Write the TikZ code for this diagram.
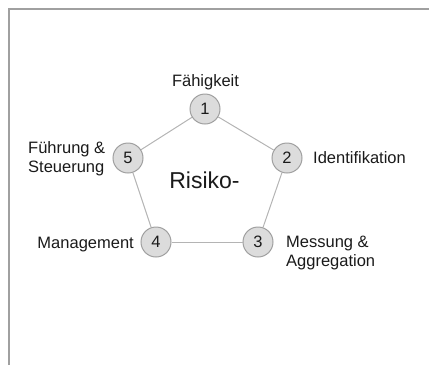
\documentclass[tikz,border=0pt]{standalone}
\usepackage{fontspec}
\setmainfont{Liberation Sans}
\definecolor{framegray}{HTML}{A0A0A0}
\definecolor{linegray}{HTML}{B4B4B4}
\definecolor{circfill}{HTML}{DCDCDC}
\definecolor{circdraw}{HTML}{A0A0A0}
\definecolor{txt}{HTML}{1A1A1A}
\tikzset{
  stage/.style={circle, draw=circdraw, fill=circfill, line width=1pt, minimum size=30pt, inner sep=0pt,
    font=\fontsize{16.5}{19}\selectfont, text=txt},
  lbl/.style={inner sep=0pt, font=\fontsize{16.5}{19}\selectfont, text=txt},
  link/.style={draw=linegray, line width=1pt},
}
\begin{document}
\begin{tikzpicture}[x=1pt,y=-1pt]
\useasboundingbox (0,0) rectangle (429,365);
\draw[framegray, line width=1.5pt] (9,365) -- (9,9) -- (429,9);
\node[stage] (n1) at (205,109) {1};
\node[stage] (n2) at (287,158) {2};
\node[stage] (n3) at (258,242) {3};
\node[stage] (n4) at (156,242) {4};
\node[stage] (n5) at (128,158) {5};
\draw[link] (n1) -- (n2);
\draw[link] (n2) -- (n3);
\draw[link] (n3) -- (n4);
\draw[link] (n4) -- (n5);
\draw[link] (n5) -- (n1);
\node[lbl, anchor=base] (l1) at (205.5,86) {Fähigkeit};
\node[lbl, anchor=base west] (l2) at (313,163) {Identifikation};
\node[lbl, anchor=north west, align=left] (l3) at (286,236) {Messung \&\\Aggregation};
\node[lbl, anchor=base east] (l4) at (134,248) {Management};
\node[lbl, anchor=north west, align=left] (l5) at (28,141) {Führung \&\\Steuerung};
\node[lbl, anchor=base, font=\fontsize{23}{27}\selectfont] (c) at (204.5,188) {Risiko-};
\end{tikzpicture}
\end{document}
